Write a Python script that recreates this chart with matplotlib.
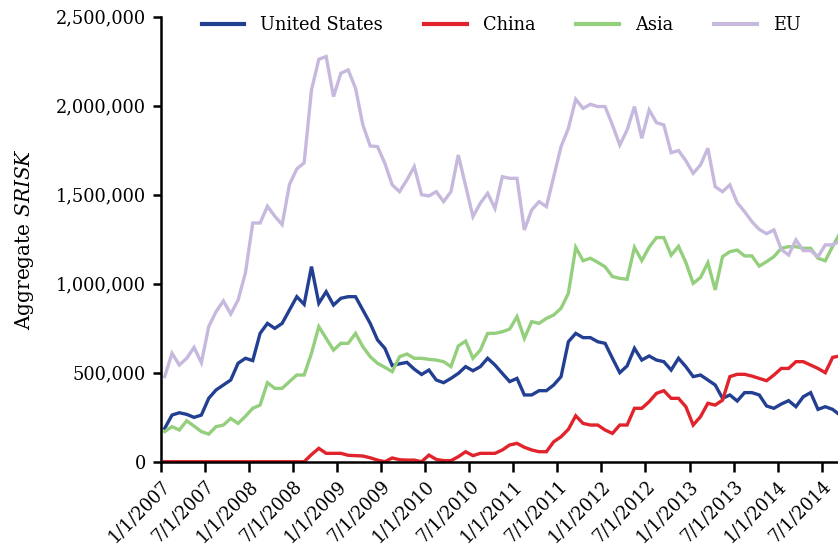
import numpy as np
import matplotlib
matplotlib.use("Agg")
import matplotlib.pyplot as plt
from matplotlib.ticker import FuncFormatter
import matplotlib.transforms as mtransforms

#------------- data (thousands), monthly from Jan 2007 -------------#

us = [187, 262, 275, 266, 249, 262, 356, 403, 431, 459, 553, 581,
      568, 721, 777, 749, 777, 852, 927, 884, 1096, 890, 955, 880,
      918, 927, 927, 852, 777, 684, 637, 540, 550, 558, 520, 490,
      515, 459, 444, 468, 496, 534, 511, 534, 581, 543, 496, 450,
      468, 375, 375, 399, 399, 431, 478, 674, 721, 697, 697, 674,
      665, 581, 500, 538, 637, 571, 594, 571, 562, 515, 581, 534,
      478, 487, 459, 431, 356, 375, 341, 388, 388, 375, 313, 300,
      324, 343, 309, 365, 388, 294, 309, 294, 262]

china = [0, 0, 0, 0, 0, 0, 0, 0, 0, 0, 0, 0,
         0, 0, 0, 0, 0, 0, 0, 0, 40, 75, 47, 47,
         47, 36, 34, 32, 22, 9, 0, 21, 11, 9, 9, 0,
         37, 13, 6, 6, 28, 56, 34, 47, 47, 47, 66, 94,
         103, 81, 66, 56, 56, 112, 140, 182, 258, 215, 206, 206,
         178, 159, 206, 206, 300, 300, 337, 384, 399, 356, 356, 309,
         206, 253, 328, 318, 346, 478, 491, 491, 481, 468, 455, 487,
         524, 524, 562, 562, 543, 524, 500, 586, 594]

asia = [169, 197, 178, 230, 200, 169, 155, 197, 206, 243, 215, 255,
        300, 318, 444, 412, 412, 450, 487, 487, 609, 759, 693, 627,
        665, 665, 721, 646, 590, 553, 530, 506, 590, 605, 581, 581,
        575, 571, 562, 534, 650, 678, 581, 627, 721, 721, 730, 745,
        815, 693, 787, 777, 805, 824, 862, 946, 1204, 1129, 1143, 1120,
        1095, 1040, 1030, 1025, 1204, 1130, 1205, 1259, 1259, 1160, 1210, 1120,
        1002, 1035, 1118, 965, 1152, 1180, 1189, 1156, 1156, 1099, 1124, 1152,
        1199, 1208, 1208, 1199, 1199, 1143, 1129, 1210, 1283]

eu = [478, 609, 543, 581, 642, 556, 759, 843, 903, 830, 908, 1060,
      1341, 1341, 1435, 1379, 1332, 1557, 1645, 1679, 2088, 2261, 2276, 2051,
      2182, 2201, 2098, 1892, 1774, 1770, 1676, 1555, 1517, 1583, 1658, 1500,
      1493, 1517, 1461, 1517, 1723, 1550, 1377, 1452, 1508, 1423, 1601, 1592,
      1592, 1302, 1414, 1461, 1433, 1601, 1770, 1873, 2036, 1985, 2008, 1995,
      1995, 1892, 1779, 1864, 1995, 1817, 1976, 1905, 1892, 1736, 1748, 1691,
      1620, 1667, 1761, 1545, 1517, 1555, 1455, 1405, 1349, 1305, 1281, 1302,
      1193, 1161, 1246, 1186, 1186, 1152, 1218, 1218, 1240]

tick_labels = ["1/1/2007", "7/1/2007", "1/1/2008", "7/1/2008", "1/1/2009",
               "7/1/2009", "1/1/2010", "7/1/2010", "1/1/2011", "7/1/2011",
               "1/1/2012", "7/1/2012", "1/1/2013", "7/1/2013", "1/1/2014",
               "7/1/2014"]

series = [("United States", us, "#223f92"),
          ("China", china, "#e1232b"),
          ("Asia", asia, "#94cf7d"),
          ("EU", eu, "#c7b8dd")]

plt.rcParams["font.family"] = "DejaVu Serif"
plt.rcParams["mathtext.fontset"] = "dejavuserif"

fig = plt.figure(figsize=(8.38, 5.45), dpi=100)
ax = fig.add_axes([161 / 838, 83.3 / 545, 1 - 161 / 838, 445 / 545])

# points sit in the middle of each month bucket
months = np.arange(len(us)) + 0.5
for name, vals, color in series:
    ax.plot(months, np.array(vals) * 1000, color=color, lw=2.4, label=name,
            solid_joinstyle="miter")

ax.set_xlim(0, 92.23)
ax.set_ylim(0, 2500000)
ax.set_yticks(np.arange(0, 2500001, 500000))
ax.yaxis.set_major_formatter(FuncFormatter(lambda v, p: "{:,.0f}".format(v)))
ax.set_xticks(np.arange(0, 91, 6))
ax.set_xticklabels(tick_labels, rotation=45, ha="right", va="top",
                   rotation_mode="anchor")
offset = mtransforms.ScaledTranslation(7 / 72, -1 / 72, fig.dpi_scale_trans)
for lab in ax.get_xticklabels():
    lab.set_transform(lab.get_transform() + offset)

for s in ["top", "right"]:
    ax.spines[s].set_visible(False)
for s in ["left", "bottom"]:
    ax.spines[s].set_linewidth(1.8)
ax.tick_params(axis="y", length=6, width=1.8, labelsize=12.8, pad=5)
ax.tick_params(axis="x", length=7, width=1.8, labelsize=12.8, pad=4)

ax.set_ylabel("Aggregate $\\mathit{SRISK}$", fontsize=14.5, labelpad=14)

leg = fig.legend(loc="center", bbox_to_anchor=(0.598, 0.954), ncol=4,
                 frameon=False, fontsize=12.8, handlelength=2.4,
                 handletextpad=0.9, columnspacing=2.3)
for h in leg.get_lines():
    h.set_linewidth(3)

fig.savefig("out.png", dpi=100)
